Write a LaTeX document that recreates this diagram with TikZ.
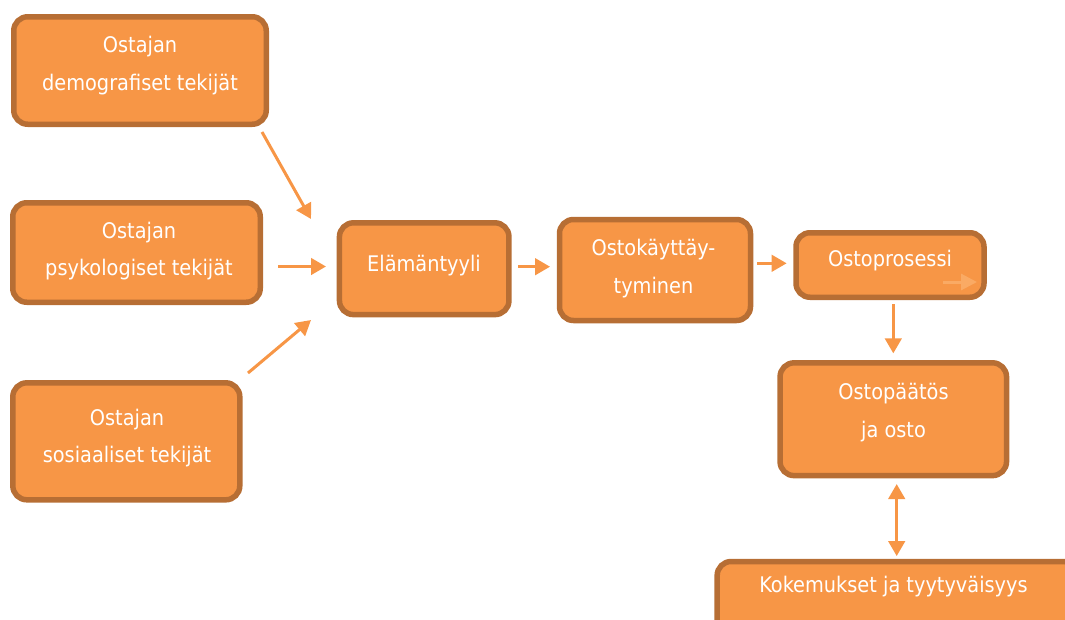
\documentclass[tikz,border=0pt]{standalone}
\usepackage{fontspec}
\setmainfont{DejaVu Sans Condensed}
\usetikzlibrary{arrows.meta}
\definecolor{boxfill}{RGB}{247,150,70}
\definecolor{boxline}{RGB}{183,110,52}
\definecolor{arr}{RGB}{247,150,70}
\definecolor{faint}{RGB}{250,170,100}
\tikzset{
  box/.style={draw=boxline, fill=boxfill, line width=5.5pt, rounded corners=14pt, inner sep=0pt},
  txt/.style={text=white, font=\fontsize{21.5}{37.5}\selectfont, align=center, inner sep=0pt},
  conn/.style={draw=arr, line width=3pt, -{Triangle[length=15pt,width=16.5pt]}},
  conn2/.style={draw=arr, line width=3pt, {Triangle[length=15pt,width=16.5pt]}-{Triangle[length=15pt,width=16.5pt]}},
}
\begin{document}
\begin{tikzpicture}[x=1pt,y=-1pt]
\useasboundingbox (0,0) rectangle (1065,619);
\clip (0,0) rectangle (1065,619);
% boxes
\node[box, minimum width=252.5pt, minimum height=107.5pt] (demo) at (140,70.5) {};
\node[box, minimum width=247.5pt, minimum height=99.5pt] (psyk) at (136.5,252.5) {};
\node[box, minimum width=227pt, minimum height=117pt] (sos) at (126.3,441.3) {};
\node[box, minimum width=169.5pt, minimum height=91.8pt] (elam) at (424.2,268.7) {};
\node[box, minimum width=191pt, minimum height=101pt] (kayt) at (655,270) {};
\node[box, minimum width=188pt, minimum height=64.5pt] (pros) at (890,265) {};
\node[box, minimum width=226.5pt, minimum height=112.8pt] (paat) at (893.3,419.2) {};
\node[box, minimum width=359.5pt, minimum height=90pt, anchor=north west] (koke) at (714.4,558.75) {};
% texts
\node[txt] (demo-t) at (140,64.1) {\strut Ostajan\\\strut demografiset tekijät};
\node[txt] (psyk-t) at (139,249.6) {\strut Ostajan\\\strut psykologiset tekijät};
\node[txt] (sos-t) at (127,436.6) {\strut Ostajan\\\strut sosiaaliset tekijät};
\node[txt] (elam-t) at (424,263.6) {\strut Elämäntyyli};
\node[txt] (kayt-t) at (653.5,267.1) {\strut Ostokäyttäy-\\\strut tyminen};
\node[txt] (pros-t) at (890,259.3) {\strut Ostoprosessi};
\node[txt] (paat-t) at (893.5,410.9) {\strut Ostopäätös\\\strut ja osto};
\node[txt] (koke-t) at (893.5,584.6) {\strut Kokemukset ja tyytyväisyys};
% connectors
\coordinate (a1) at (262,132);
\coordinate (a1e) at (311,219);
\coordinate (a2) at (278,266.5);
\coordinate (a2e) at (326,266.5);
\coordinate (a3) at (248,373);
\coordinate (a3e) at (311,320);
\draw[conn] (a1) -- (a1e);
\draw[conn] (a2) -- (a2e);
\draw[conn] (a3) -- (a3e);
\draw[conn] ([xshift=6.6pt]elam.east |- 0,266.7) -- ([xshift=-6.7pt]kayt.west |- 0,266.7);
\draw[conn] ([xshift=4pt]kayt.east |- 0,263.3) -- ([xshift=-6.6pt]pros.west |- 0,263.3);
\draw[conn] ([yshift=-4pt]pros.south -| 893.3,0) -- ([yshift=6.7pt]paat.north -| 893.3,0);
\draw[conn2] ([yshift=-5.7pt]paat.south -| 896.7,0) -- ([yshift=2.7pt]koke.north -| 896.7,0);
\coordinate (f1) at (943,282);
\coordinate (f2) at (977,282);
\draw[draw=faint, line width=3pt, -{Triangle[length=16pt,width=16pt]}] (f1) -- (f2);
\end{tikzpicture}
\end{document}
